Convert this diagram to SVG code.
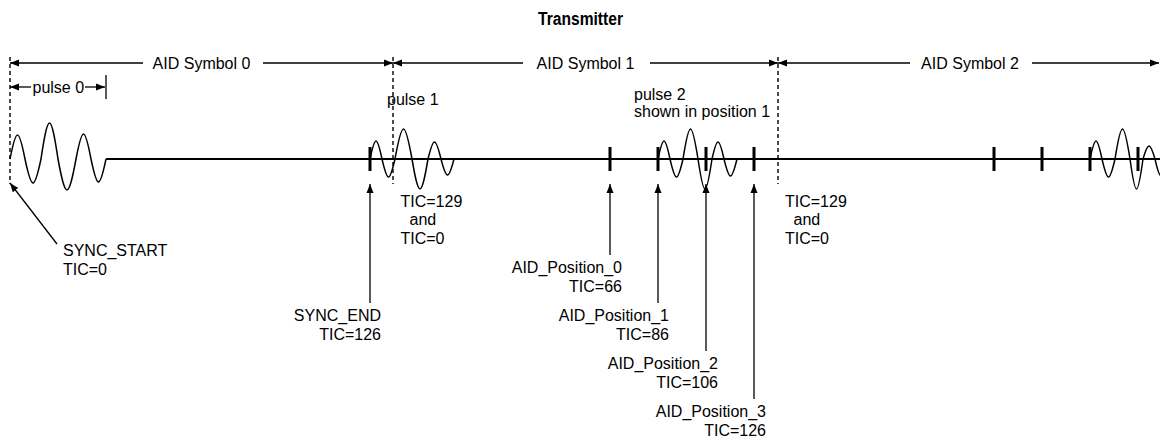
<svg xmlns="http://www.w3.org/2000/svg" width="1160" height="440" viewBox="0 0 1160 440">
<style>
text{font-family:"Liberation Sans",Arial,sans-serif;font-size:16px;fill:#000}
.title{font-weight:bold;font-size:18px}
.mid{text-anchor:middle}
.end{text-anchor:end}
.dash{stroke:#000;stroke-width:1.4;stroke-dasharray:4,3;fill:none}
.ln{stroke:#000;stroke-width:1.3;fill:none}
.base{stroke:#000;stroke-width:2;fill:none}
.wave{stroke:#000;stroke-width:1.5;fill:none}
.tick{stroke:#000;stroke-width:3}
.arr{stroke:#000;stroke-width:1.3;fill:none;marker-end:url(#ah)}
</style>
<defs>
<marker id="ah" markerUnits="userSpaceOnUse" markerWidth="10" markerHeight="8" refX="9" refY="4" orient="auto" viewBox="0 0 10 8">
<path d="M0,0.5 L9,4 L0,7.5 z" fill="#000"/>
</marker>
</defs>
<rect width="1160" height="440" fill="#fff"/>
<g id="title"><text class="title" x="538" y="25" textLength="85" lengthAdjust="spacingAndGlyphs">Transmitter</text></g>

<g id="boundaries">
<line class="dash" x1="10" y1="57" x2="10" y2="184"/>
<line class="dash" x1="393" y1="57" x2="393" y2="184"/>
<line class="dash" x1="778" y1="57" x2="778" y2="184"/>
</g>

<g id="symbol-0">
<text class="mid" x="201.5" y="69">AID Symbol 0</text>
</g>
<g id="symbol-1">
<text class="mid" x="585.5" y="69">AID Symbol 1</text>
</g>
<g id="symbol-2">
<text class="mid" x="970" y="69">AID Symbol 2</text>
</g>

<g id="signal">
<line class="base" x1="106" y1="159" x2="1160" y2="159"/>
<path id="pulse-0" class="wave" d="M10,159 C12.5,146.4 15,135 17.5,135 C20,135 22.5,146.4 25,159 C27.67,171.6 30.33,183 33,183 C35.67,183 38.33,171.6 41,159 C43.83,140.15 46.67,123 49.5,123 C52.33,123 55.17,140.15 58,159 C61,175.2 64,190 67,190 C70,190 73,175.2 76,159 C78.5,145.9 81,134 83.5,134 C86,134 88.5,145.9 91,159 C93.5,171 96,182 98.5,182 C101,182 103.5,171 106,159"/>
<path id="pulse-1" class="wave" d="M370,159 C372,149.6 374,141 376,141 C378,141 380,149.6 382,159 C384.17,168.4 386.33,177 388.5,177 C390.67,177 392.83,168.4 395,159 C397.83,143.3 400.67,129 403.5,129 C406.33,129 409.17,143.3 412,159 C414.67,174.7 417.33,189 420,189 C422.67,189 425.33,174.7 428,159 C430.17,150.1 432.33,142 434.5,142 C436.67,142 438.83,150.1 441,159 C443.17,167.4 445.33,175 447.5,175 C449.67,175 451.83,167.4 454,159"/>
<path id="pulse-2" class="wave" d="M658,159 C660,149.6 662,141 664,141 C666,141 668,149.6 670,159 C672.17,168.4 674.33,177 676.5,177 C678.67,177 680.83,168.4 683,159 C685.5,143.3 688,129 690.5,129 C693,129 695.5,143.3 698,159 C700.33,174.7 702.67,189 705,189 C707.33,189 709.67,174.7 712,159 C714,150.1 716,142 718,142 C720,142 722,150.1 724,159 C726.17,167.9 728.33,176 730.5,176 C732.67,176 734.83,167.9 737,159"/>
<path id="pulse-3" class="wave" d="M1090,159 C1092,149.6 1094,141 1096,141 C1098,141 1100,149.6 1102,159 C1104.17,168.4 1106.33,177 1108.5,177 C1110.67,177 1112.83,168.4 1115,159 C1117.5,143.3 1120,129 1122.5,129 C1125,129 1127.5,143.3 1130,159 C1132.17,174.7 1134.33,189 1136.5,189 C1138.67,189 1140.83,174.7 1143,159 C1145,152.2 1147,146 1149,146 C1151,146 1153,152.2 1155,159 C1157,167.9 1159,176 1161,176 C1163,176 1165,167.9 1167,159"/>
<line class="tick" x1="370" y1="147" x2="370" y2="171"/>
<line class="tick" x1="610" y1="147" x2="610" y2="171"/>
<line class="tick" x1="658" y1="147" x2="658" y2="171"/>
<line class="tick" x1="706" y1="147" x2="706" y2="171"/>
<line class="tick" x1="754" y1="147" x2="754" y2="171"/>
<line class="tick" x1="994" y1="147" x2="994" y2="171"/>
<line class="tick" x1="1042" y1="147" x2="1042" y2="171"/>
<line class="tick" x1="1090" y1="147" x2="1090" y2="171"/>
<line class="tick" x1="1138" y1="147" x2="1138" y2="171"/>
</g>

<g id="pulse-0-label">
<text x="32.5" y="92.5">pulse 0</text>
<line class="ln" x1="106" y1="75" x2="106" y2="99"/>
</g>
<g id="pulse-1-label"><text x="387" y="104.5">pulse 1</text></g>
<g id="pulse-2-label">
<text x="634" y="100">pulse 2</text>
<text x="634" y="117">shown in position 1</text>
</g>

<g id="tic-boundary-1">
<text x="400.5" y="206.5">TIC=129</text>
<text x="409.5" y="225">and</text>
<text x="400.5" y="244">TIC=0</text>
</g>
<g id="tic-boundary-2">
<text x="785" y="206.5">TIC=129</text>
<text x="793.5" y="225">and</text>
<text x="785" y="244">TIC=0</text>
</g>

<g id="sync-start">
<text x="63" y="256">SYNC_START</text>
<text x="63" y="275">TIC=0</text>
</g>
<g id="sync-end">
<text class="end" x="381" y="320.5">SYNC_END</text>
<text class="end" x="381" y="339.5">TIC=126</text>
</g>
<g id="aid-position-0">
<text class="end" x="622" y="272.5">AID_Position_0</text>
<text class="end" x="622" y="291.5">TIC=66</text>
</g>
<g id="aid-position-1">
<text class="end" x="669" y="320.5">AID_Position_1</text>
<text class="end" x="669" y="339.5">TIC=86</text>
</g>
<g id="aid-position-2">
<text class="end" x="718" y="368.5">AID_Position_2</text>
<text class="end" x="718" y="387.5">TIC=106</text>
</g>
<g id="aid-position-3">
<text class="end" x="766" y="416.5">AID_Position_3</text>
<text class="end" x="766" y="435.5">TIC=126</text>
</g>

<g id="connectors">
<line class="arr" x1="143" y1="63" x2="10" y2="63"/>
<line class="arr" x1="263" y1="63" x2="393" y2="63"/>
<line class="arr" x1="523" y1="63" x2="393" y2="63"/>
<line class="arr" x1="650" y1="63" x2="778" y2="63"/>
<line class="arr" x1="910" y1="63" x2="778" y2="63"/>
<line class="arr" x1="1032" y1="63" x2="1159" y2="63"/>
<line class="arr" x1="31" y1="87" x2="10" y2="87"/>
<line class="arr" x1="85" y1="87" x2="105" y2="87"/>
<line class="arr" x1="57" y1="244" x2="10" y2="183"/>
<line class="arr" x1="370" y1="303" x2="370" y2="184"/>
<line class="arr" x1="610" y1="255" x2="610" y2="184"/>
<line class="arr" x1="658" y1="303" x2="658" y2="184"/>
<line class="arr" x1="706" y1="351" x2="706" y2="184"/>
<line class="arr" x1="754" y1="399" x2="754" y2="184"/>
</g>
</svg>
